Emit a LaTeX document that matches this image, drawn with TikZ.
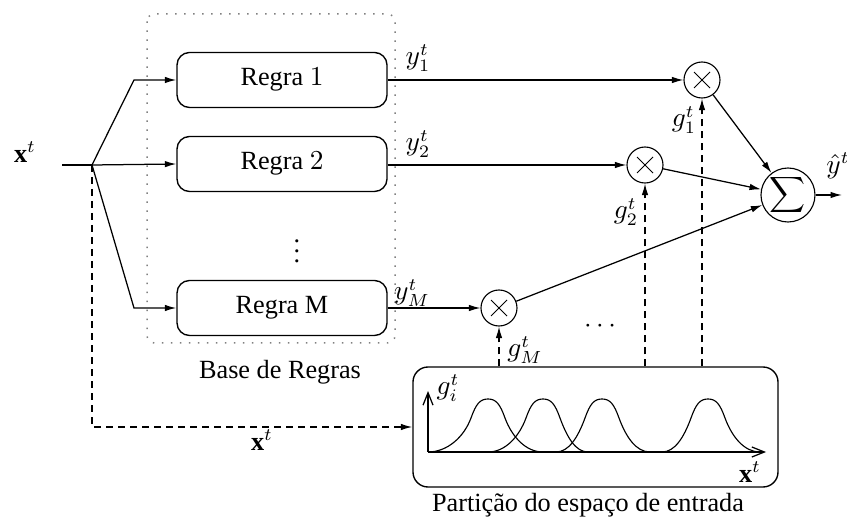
\documentclass[tikz,border=0pt]{standalone}
\usepackage{fontspec}
\setmainfont{Liberation Serif}
\usetikzlibrary{arrows.meta}
\begin{document}
\begin{tikzpicture}[x=0.4pt,y=-0.4pt,
  txt/.style={font=\fontsize{10.5}{12.6}\selectfont, inner sep=1pt},
  rulebox/.style={txt, draw, line width=0.55pt, rounded corners=5pt,
    minimum width=84pt, minimum height=22pt},
  mult/.style={draw, circle, line width=0.45pt, minimum size=14.4pt, inner sep=0pt,
    path picture={\draw[line width=0.4pt]
      ([shift={(-3.2pt,-3.2pt)}]path picture bounding box.center) -- ([shift={(3.2pt,3.2pt)}]path picture bounding box.center)
      ([shift={(-3.2pt,3.2pt)}]path picture bounding box.center) -- ([shift={(3.2pt,-3.2pt)}]path picture bounding box.center);}},
  sumnode/.style={draw, circle, line width=0.45pt, minimum size=21.6pt, inner sep=0pt,
    font=\fontsize{13.5}{15}\selectfont},
  arr/.style={line width=0.5pt, -{Latex[length=4.6pt,width=2.6pt]}},
  wire/.style={line width=0.5pt},
  dashline/.style={dash pattern=on 2.8pt off 2pt},
  axisline/.style={line width=0.5pt, -{Straight Barb[length=5pt,width=4pt]}},
  bump/.style={line width=0.45pt}
]
\useasboundingbox (0,0) rectangle (847,525);

% rule base frame
\draw[gray, line width=0.6pt, dash pattern=on 0.6pt off 3pt, rounded corners=3pt]
  (147,14) rectangle (395,343);
\node[txt] (baselbl) at (280,372) {Base de Regras};

% rules
\node[rulebox] (r1) at (282,80) {Regra $1$};
\node[rulebox] (r2) at (282,164) {Regra $2$};
\node[rulebox] (rM) at (282,308) {Regra $\mathrm{M}$};
\node[txt] (vd) at (297,244) {$\vdots$};

% input and branching
\node[txt] (xlbl) at (25,152) {$\mathbf{x}^t$};
\coordinate (xin) at (62,165);
\coordinate (split) at (92,165);
\coordinate (b1) at (134,80);
\coordinate (bM) at (134,308);
\draw[wire] (xin) -- (split);
\draw[arr] (split) -- (r2.west);
\draw[arr] (split) -- (b1) -- (r1.west);
\draw[arr] (split) -- (bM) -- (rM.west);

% multipliers and sum
\node[mult] (m1) at (702,80) {};
\node[mult] (m2) at (645,165) {};
\node[mult] (mM) at (499,308) {};
\node[sumnode] (sig) at (788,195) {$\displaystyle\sum$};

\draw[arr] (r1.east) -- (m1.west);
\draw[arr] (r2.east |- m2) -- (m2.west);
\draw[arr] (rM.east) -- (mM.west);
\node[txt] (y1) at (418,58) {$y_1^t$};
\node[txt] (y2) at (418,144) {$y_2^t$};
\node[txt] (yM) at (412,293) {$y_M^t$};

\draw[arr] (m1) -- (sig);
\draw[arr] (m2) -- (sig);
\draw[arr] (mM) -- (sig);
\coordinate (yout) at (842,195);
\draw[arr] (sig) -- (yout);
\node[txt] (yhat) at (838,166) {$\hat{y}^t$};

\node[txt] (cd) at (600,326) {$\cdots$};

% input-space partition
\node[draw, line width=0.55pt, rounded corners=6pt,
      minimum width=146pt, minimum height=48pt] (part) at (595.5,427) {};
\node[txt] (partlbl) at (588,505) {Partição do espaço de entrada};

\draw[arr, dashline] (split) -- (split |- part.west) -- (part.west);
\node[txt] (x2) at (262,440) {$\mathbf{x}^t$};

\draw[arr, dashline] (part.north -| m1) -- (m1.south);
\draw[arr, dashline] (part.north -| m2) -- (m2.south);
\draw[arr, dashline] (part.north -| mM) -- (mM.south);
\node[txt] (g1) at (684,120) {$g_1^t$};
\node[txt] (g2) at (626,212) {$g_2^t$};
\node[txt] (gM) at (525,350) {$g_M^t$};

% membership functions: centre / left reach / right reach
\coordinate (o) at (428,452);
\coordinate (ytop) at (428,391);
\coordinate (xend) at (766,452);
\draw[axisline] (o) -- (ytop);
\draw[axisline] (o) -- (xend);
\node[txt] (gi) at (448,388) {$g_i^t$};
\node[txt] (xt) at (750,472) {$\mathbf{x}^t$};
\foreach \c/\l/\r in {488/60/55, 543/55/45, 602/46/48, 708/46/52}{
  \draw[bump]
    ({\c-\l},452) .. controls ({\c-\l+0.45*(\l-17)},452) and ({\c-24},437) .. ({\c-17},418)
    .. controls ({\c-12},404) and ({\c-8},399) .. ({\c},399)
    .. controls ({\c+8},399) and ({\c+12},404) .. ({\c+17},418)
    .. controls ({\c+24},437) and ({\c+\r-0.45*(\r-17)},452) .. ({\c+\r},452);
}
\end{tikzpicture}
\end{document}
